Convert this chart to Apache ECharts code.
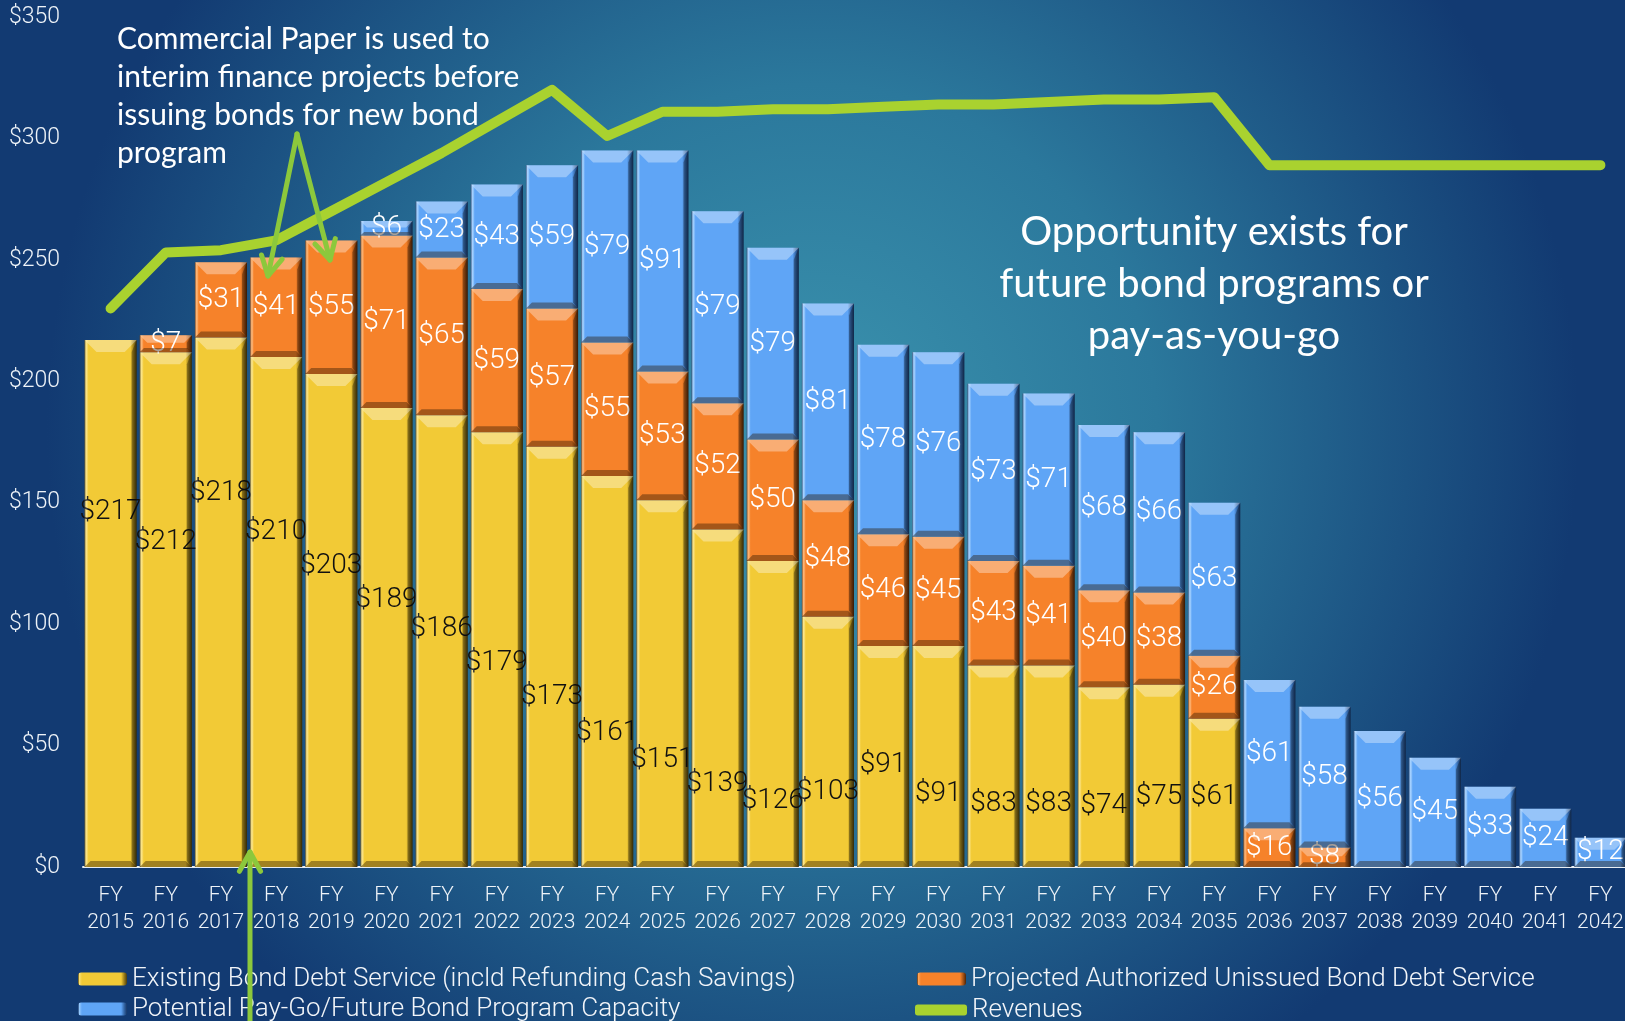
<!DOCTYPE html>
<html><head><meta charset="utf-8">
<script src="https://cdn.jsdelivr.net/npm/echarts@6/dist/echarts.min.js"></script>
<style>html,body{margin:0;padding:0;background:#1a4a80;overflow:hidden}#c{width:1625px;height:1021px}</style>
</head><body><div id="c"></div>
<script>
const categories = ['FY\n2015','FY\n2016','FY\n2017','FY\n2018','FY\n2019','FY\n2020','FY\n2021','FY\n2022','FY\n2023','FY\n2024','FY\n2025','FY\n2026','FY\n2027','FY\n2028','FY\n2029','FY\n2030','FY\n2031','FY\n2032','FY\n2033','FY\n2034','FY\n2035','FY\n2036','FY\n2037','FY\n2038','FY\n2039','FY\n2040','FY\n2041','FY\n2042'];
const existing  = [217,212,218,210,203,189,186,179,173,161,151,139,126,103,91,91,83,83,74,75,61,0,0,0,0,0,0,0];
const projected = [0,7,31,41,55,71,65,59,57,55,53,52,50,48,46,45,43,41,40,38,26,16,8,0,0,0,0,0];
const potential = [0,0,0,0,0,6,23,43,59,79,91,79,79,81,78,76,73,71,68,66,63,61,58,56,45,33,24,12];
const revenues  = [230,253,254,258,270,282,294,307,320,301,311,311,312,312,313,314,314,315,316,316,317,289,289,289,289,289,289,289];
// level (in $) at which each existing-debt label sits in the picture
const existingLabelLevel = [146,134,154,138,124,110,98,84,70,55,44,34,27,31,42,30,26,26,25,29,29,null,null,null,null,null,null,null];
const yTicks = [0,50,100,150,200,250,300,350];

const names = {
  existing: 'Existing Bond Debt Service (incld Refunding Cash Savings)',
  projected: 'Projected Authorized Unissued Bond Debt Service',
  potential: 'Potential Pay-Go/Future Bond Program Capacity',
  revenues: 'Revenues'
};

const chart = echarts.init(document.getElementById('c'), null, {renderer: 'canvas'});

function bevel(dark, light, main, shadow) {
  return new echarts.graphic.LinearGradient(0, 0, 1, 0, [
    {offset: 0, color: dark}, {offset: 0.03, color: light}, {offset: 0.08, color: main},
    {offset: 0.88, color: main}, {offset: 0.94, color: shadow}, {offset: 1, color: dark}
  ]);
}
const yellow = bevel('#4a3c0c', '#fbe070', '#f2ca36', '#9c7f1a');
const orange = bevel('#4e2406', '#fda456', '#f6822a', '#a85416');
const blue   = bevel('#173766', '#92c8ff', '#5fa5f6', '#3568a8');

// bevel overlay segments [category, from, to] built from the stacked series
const segments = [];
categories.forEach((c, i) => {
  let base = 0;
  [existing, projected, potential].forEach(arr => {
    const v = arr[i];
    if (v) { segments.push([i, base, base + v]); base += v; }
  });
});

const GAP = 0.055;
function renderBevel(params, api) {
  const i = api.value(0);
  const pb = api.coord([i, api.value(1)]);
  const pt = api.coord([i, api.value(2)]);
  const w = api.size([1, 0])[0] * (1 - GAP);
  const x0 = pb[0] - w / 2, x1 = x0 + w;
  const yb = pb[1], yt = pt[1], h = yb - yt;
  const bt = Math.min(12, h * 0.45), bb = Math.min(6, h * 0.25), bs = Math.min(5, h * 0.3);
  return {type: 'group', children: [
    {type: 'polygon', shape: {points: [[x0, yt], [x1, yt], [x1 - bt, yt + bt], [x0 + bt, yt + bt]]},
      style: {fill: 'rgba(255,255,255,0.35)'}},
    {type: 'polygon', shape: {points: [[x0, yb], [x1, yb], [x1 - bb, yb - bb], [x0 + bb, yb - bb]]},
      style: {fill: 'rgba(40,20,0,0.4)'}},
    {type: 'polygon', shape: {points: [[x1, yt], [x1, yb], [x1 - bs, yb - bb], [x1 - bs, yt + bt]]},
      style: {fill: 'rgba(0,0,0,0.3)'}},
    {type: 'polygon', shape: {points: [[x0, yt], [x0, yb], [x0 + 3, yb - 3], [x0 + 3, yt + 3]]},
      style: {fill: 'rgba(255,255,255,0.18)'}}
  ]};
}

const nz = arr => arr.map(v => v ? v : null);
const labelFont = 'Roboto, "Noto Sans", sans-serif';
const fmt = p => (p.value ? '$' + p.value : '');

const bg = new echarts.graphic.RadialGradient(0.5, 0.42, 0.75, [
  {offset: 0, color: '#3b93ae'}, {offset: 0.45, color: '#2b789c'}, {offset: 1, color: '#123a72'}
]);

function arrow(x1, y1, x2, y2, wing) {
  const a = Math.atan2(y2 - y1, x2 - x1);
  const w = wing || 22, sp = 0.5;
  return [
    {type: 'polyline', shape: {points: [[x1, y1], [x2, y2]]}, style: {stroke: '#8cc83c', lineWidth: 5, lineCap: 'round'}, z: 100},
    {type: 'polyline', shape: {points: [
      [x2 - w * Math.cos(a - sp), y2 - w * Math.sin(a - sp)], [x2, y2],
      [x2 - w * Math.cos(a + sp), y2 - w * Math.sin(a + sp)]]},
      style: {stroke: '#8cc83c', fill: null, lineWidth: 5, lineCap: 'round', lineJoin: 'round'}, z: 100}
  ];
}

const legendBase = {orient: 'horizontal', padding: 0, itemWidth: 49, itemHeight: 13, itemGap: 10,
  textStyle: {color: '#f2f5f9', fontSize: 26, fontFamily: labelFont, fontWeight: 300}};

const valueLabel = (color) => ({show: true, position: 'inside', formatter: fmt, color: color, fontSize: 28, fontFamily: labelFont, fontWeight: 300});

const option = {
  backgroundColor: bg,
  animation: false,
  grid: {left: 83, top: 17, width: 1545, height: 850, containLabel: false, outerBoundsMode: 'none'},
  legend: [
    Object.assign({}, legendBase, {left: 78, top: 966, data: [names.existing]}),
    Object.assign({}, legendBase, {left: 917, top: 966, data: [names.projected]}),
    Object.assign({}, legendBase, {left: 78, top: 996, data: [names.potential]}),
    Object.assign({}, legendBase, {left: 915, top: 997, itemWidth: 52, itemHeight: 11, data: [{name: names.revenues, icon: 'roundRect'}]})
  ],
  xAxis: {
    type: 'category', data: categories,
    axisLine: {lineStyle: {color: '#e8eef4', width: 2}},
    axisTick: {show: false},
    axisLabel: {interval: 0, color: '#eef3f8', fontSize: 21, lineHeight: 27, margin: 15, fontFamily: labelFont, fontWeight: 300}
  },
  yAxis: {
    type: 'value', min: 0, max: 350, interval: 50,
    splitLine: {show: false}, axisLine: {show: false}, axisTick: {show: false},
    axisLabel: {color: '#eef3f8', fontSize: 23, margin: 23, fontFamily: labelFont, fontWeight: 300,
      formatter: v => yTicks.indexOf(v) >= 0 ? '$' + v : ''}
  },
  series: [
    {name: names.existing, type: 'bar', stack: 'ds', data: nz(existing), barCategoryGap: (GAP * 100) + '%',
      itemStyle: {color: yellow},
      label: valueLabel('#111'),
      labelLayout: function (p) {
        const lv = existingLabelLevel[p.dataIndex], v = existing[p.dataIndex];
        if (lv == null || !v) return {};
        const r = p.rect, top = Math.min(r.y, r.y + r.height), h = Math.abs(r.height);
        return {x: r.x + r.width / 2, y: top + h * (1 - lv / v), align: 'center', verticalAlign: 'middle'};
      }
    },
    {name: names.projected, type: 'bar', stack: 'ds', data: nz(projected),
      itemStyle: {color: orange},
      label: valueLabel('#fff')
    },
    {name: names.potential, type: 'bar', stack: 'ds', data: nz(potential),
      itemStyle: {color: blue},
      label: valueLabel('#fff')
    },
    {name: 'bevel', type: 'custom', data: segments, renderItem: renderBevel, silent: true, z: 3,
      coordinateSystem: 'cartesian2d', xAxisIndex: 0, yAxisIndex: 0,
      encode: {x: 0, y: [1, 2]}, tooltip: {show: false}},
    {name: names.revenues, type: 'line', data: revenues, showSymbol: false, symbol: 'none', z: 20,
      itemStyle: {color: '#a9d22f'},
      lineStyle: {color: '#a9d22f', width: 10, cap: 'round', join: 'round'}
    }
  ],
  graphic: [
    {type: 'text', left: 117, top: 20, z: 100, style: {
      text: 'Commercial Paper is used to\ninterim finance projects before\nissuing bonds for new bond\nprogram',
      fill: '#ffffff', font: '30px Lato, "Open Sans", sans-serif', lineHeight: 38}},
    {type: 'text', z: 100, x: 1214, y: 206, style: {
      text: 'Opportunity exists for\nfuture bond programs or\npay-as-you-go', align: 'center',
      fill: '#ffffff', font: '40px Lato, "Open Sans", sans-serif', lineHeight: 52}}
  ].concat(arrow(297, 134, 268, 276)).concat(arrow(297, 134, 330, 260)).concat(arrow(250, 1030, 250, 852))
};
chart.setOption(option);
</script>
</body></html>
